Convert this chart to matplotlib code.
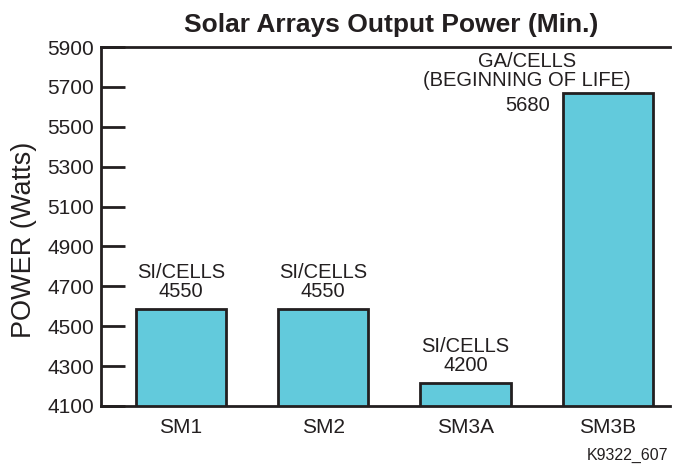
import matplotlib
matplotlib.use("Agg")
import matplotlib.pyplot as plt

categories = ["SM1", "SM2", "SM3A", "SM3B"]
values = [4585, 4585, 4215, 5670]
bar_labels = ["SI/CELLS\n4550", "SI/CELLS\n4550", "SI/CELLS\n4200",
              "GA/CELLS\n(BEGINNING OF LIFE)"]
value_note = "5680"
yticks = [4100, 4300, 4500, 4700, 4900, 5100, 5300, 5500, 5700, 5900]

plt.rcParams['font.family'] = ['Liberation Sans', 'DejaVu Sans']
txt = '#231f20'

fig = plt.figure(figsize=(6.73, 4.68), dpi=100)
ax = fig.add_axes([0.150, 0.1325, 0.846, 0.767])
x = list(range(len(categories)))
ax.bar(x, [v - 4100 for v in values], bottom=4100, width=0.634,
       color='#62cadc', edgecolor='#231f20', linewidth=2, zorder=3)
ax.set_xlim(-0.563, 3.44)
ax.set_ylim(4100, 5900)
ax.set_yticks(yticks)
ax.set_yticklabels([str(t) for t in yticks], fontsize=15, color=txt)
ax.set_xticks(x)
ax.set_xticklabels(categories, fontsize=15, color=txt)
ax.tick_params(axis='y', direction='in', length=17, width=2, color=txt, pad=5)
ax.tick_params(axis='x', length=0, pad=9)
for s in ['left', 'top', 'bottom']:
    ax.spines[s].set_linewidth(2)
    ax.spines[s].set_color(txt)
ax.spines['right'].set_visible(False)
ax.set_ylabel("POWER (Watts)", fontsize=19.5, color=txt)
ax.yaxis.set_label_coords(-0.112, 0.462)
ax.set_title("Solar Arrays Output Power (Min.)", fontsize=19, fontweight='bold',
             color=txt, pad=11, x=0.51)

for i in range(3):
    ax.annotate(bar_labels[i], (x[i], values[i]), xytext=(0, 6),
                textcoords='offset points', ha='center', va='bottom',
                fontsize=14.5, color=txt, linespacing=1.0)
ax.annotate(bar_labels[3], (x[3], values[3]), xytext=(-58, 2),
            textcoords='offset points', ha='center', va='bottom',
            fontsize=14.5, color=txt, linespacing=1.0)
ax.annotate(value_note, (x[3] - 0.317, values[3]), xytext=(-9, -2),
            textcoords='offset points', ha='right', va='top',
            fontsize=14.5, color=txt)

fig.text(0.993, 0.01, "K9322_607", ha='right', va='bottom', fontsize=11.5, color=txt)
fig.savefig("out.png", dpi=100)
